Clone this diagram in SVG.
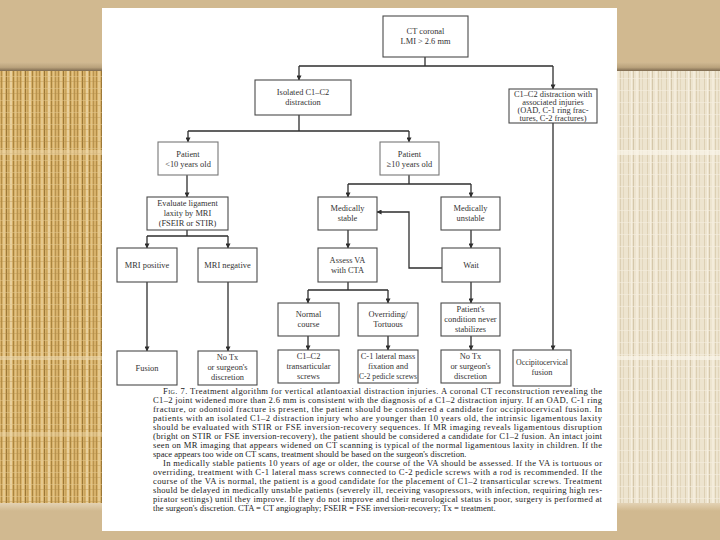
<svg xmlns="http://www.w3.org/2000/svg" width="720" height="540" viewBox="0 0 720 540">
<defs>
<style>
.box{fill:#ffffff;stroke:#4a4a4a;stroke-width:1.1}
.bt{font-family:"Liberation Serif","Times New Roman",serif;font-size:8.4px;fill:#333333;text-anchor:middle}
.cap{font-family:"Liberation Serif","Times New Roman",serif;font-size:8.6px;fill:#222222}
.ln{fill:none;stroke:#2e2e2e;stroke-width:1.3}
</style>
<marker id="ah" viewBox="0 0 6 6" refX="5.5" refY="3" markerWidth="5" markerHeight="5" orient="auto" markerUnits="userSpaceOnUse">
<path d="M0,0 L6,3 L0,6 Z" fill="#2e2e2e"/>
</marker>
<pattern id="gold" width="19" height="12" patternUnits="userSpaceOnUse">
<rect width="19" height="12" fill="#d7b16a"/>
<rect x="1" width="1" height="12" fill="#b48d47"/>
<rect x="3" width="2" height="12" fill="#e6c98e"/>
<rect x="6" width="1" height="12" fill="#9c7837"/>
<rect x="8" width="1" height="12" fill="#c9a45c"/>
<rect x="10" width="2" height="12" fill="#e9d09d"/>
<rect x="13" width="1" height="12" fill="#a9843f"/>
<rect x="15" width="1" height="12" fill="#e1c283"/>
<rect x="17" width="1" height="12" fill="#b8934f"/>
<rect y="4" width="19" height="1" fill="#e3c78e" opacity="0.5"/>
<rect y="9" width="19" height="1" fill="#b08b48" opacity="0.35"/>
</pattern>
<pattern id="pale" width="19" height="12" patternUnits="userSpaceOnUse">
<rect width="19" height="12" fill="#ede4cf"/>
<rect x="1" width="1" height="12" fill="#ddd0b4"/>
<rect x="4" width="1" height="12" fill="#f6efe0"/>
<rect x="6" width="1" height="12" fill="#d5c7aa"/>
<rect x="9" width="2" height="12" fill="#f4ecdb"/>
<rect x="12" width="1" height="12" fill="#dccfb3"/>
<rect x="15" width="1" height="12" fill="#e2d6bc"/>
<rect y="6" width="19" height="1" fill="#f5eedf" opacity="0.6"/>
</pattern>
<linearGradient id="topsh" x1="0" y1="0" x2="0" y2="1">
<stop offset="0" stop-color="#d2bb93"/>
<stop offset="0.6" stop-color="#b9a27c"/>
<stop offset="1" stop-color="#7d6a4f"/>
</linearGradient>
<linearGradient id="botsh" x1="0" y1="0" x2="0" y2="1">
<stop offset="0" stop-color="#e3d2b4"/>
<stop offset="1" stop-color="#d1b98f"/>
</linearGradient>
</defs>

<g id="background">
<rect x="0" y="0" width="720" height="540" fill="#d1b990"/>
<rect x="0" y="70" width="102" height="433" fill="url(#gold)"/>
<rect x="617" y="70" width="103" height="433" fill="url(#pale)"/>
<rect x="0" y="150" width="102" height="5" fill="#ecd6a6" opacity="0.55"/>
<rect x="0" y="356" width="102" height="4" fill="#efdcb4" opacity="0.6"/>
<rect x="0" y="432" width="102" height="4" fill="#ecd6a6" opacity="0.5"/>
<rect x="617" y="150" width="103" height="5" fill="#faf5ea" opacity="0.7"/>
<rect x="617" y="356" width="103" height="4" fill="#faf5ea" opacity="0.7"/>
<rect x="0" y="62" width="720" height="9" fill="url(#topsh)"/>
<rect x="0" y="503" width="720" height="8" fill="url(#botsh)"/>
<rect x="102" y="8" width="515" height="523" fill="#ffffff"/>
</g>

<g id="connectors">
<path class="ln" d="M425,57 V66 M299,66 H553"/>
<path class="ln" d="M299,66 V80" marker-end="url(#ah)"/>
<path class="ln" d="M553,66 V89" marker-end="url(#ah)"/>
<path class="ln" d="M299,115 V131 M188,131 H409"/>
<path class="ln" d="M188,131 V142" marker-end="url(#ah)"/>
<path class="ln" d="M409,131 V142" marker-end="url(#ah)"/>
<path class="ln" d="M187,175 V197" marker-end="url(#ah)"/>
<path class="ln" d="M187,230 V236 M147,236 H228"/>
<path class="ln" d="M147,236 V248" marker-end="url(#ah)"/>
<path class="ln" d="M228,236 V248" marker-end="url(#ah)"/>
<path class="ln" d="M409,175 V184 M348,184 H471"/>
<path class="ln" d="M348,184 V197" marker-end="url(#ah)"/>
<path class="ln" d="M471,184 V197" marker-end="url(#ah)"/>
<path class="ln" d="M348,230 V248" marker-end="url(#ah)"/>
<path class="ln" d="M471,230 V248" marker-end="url(#ah)"/>
<path class="ln" d="M442,268 H409 V212 H377" marker-end="url(#ah)"/>
<path class="ln" d="M348,282 V290 M308,290 H388"/>
<path class="ln" d="M308,290 V303" marker-end="url(#ah)"/>
<path class="ln" d="M388,290 V303" marker-end="url(#ah)"/>
<path class="ln" d="M471,282 V303" marker-end="url(#ah)"/>
<path class="ln" d="M308,336 V350" marker-end="url(#ah)"/>
<path class="ln" d="M388,336 V350" marker-end="url(#ah)"/>
<path class="ln" d="M471,336 V350" marker-end="url(#ah)"/>
<path class="ln" d="M147,282 V351" marker-end="url(#ah)"/>
<path class="ln" d="M228,282 V351" marker-end="url(#ah)"/>
<path class="ln" d="M553,123 V350" marker-end="url(#ah)"/>
</g>

<g id="n-ct"><rect class="box" x="383" y="16" width="85" height="41"/>
<text class="bt" x="425.5" y="34">CT coronal</text><text class="bt" x="425.5" y="44">LMI &gt; 2.6 mm</text></g>

<g id="n-isolated"><rect class="box" x="255" y="80" width="96" height="35"/>
<text class="bt" x="303" y="95">Isolated C1–C2</text><text class="bt" x="303" y="105">distraction</text></g>

<g id="n-assoc"><rect class="box" x="509" y="89" width="88" height="34"/>
<text class="bt" x="553" y="97">C1–C2 distraction with</text>
<text class="bt" x="553" y="105">associated injuries</text>
<text class="bt" x="553" y="113">(OAD, C-1 ring frac-</text>
<text class="bt" x="553" y="121">tures, C-2 fractures)</text></g>

<g id="n-lt10"><rect class="box" x="158" y="142" width="60" height="33" style="stroke:#777"/>
<text class="bt" x="188" y="157">Patient</text><text class="bt" x="188" y="167">&lt;10 years old</text></g>

<g id="n-ge10"><rect class="box" x="380" y="142" width="59" height="33" style="stroke:#777"/>
<text class="bt" x="409.5" y="157">Patient</text><text class="bt" x="409.5" y="167">≥10 years old</text></g>

<g id="n-eval"><rect class="box" x="147" y="197" width="81" height="33"/>
<text class="bt" x="187.5" y="206">Evaluate ligament</text>
<text class="bt" x="187.5" y="216">laxity by MRI</text>
<text class="bt" x="187.5" y="226">(FSEIR or STIR)</text></g>

<g id="n-mripos"><rect class="box" x="117" y="248" width="60" height="34"/>
<text class="bt" x="147" y="268">MRI positive</text></g>

<g id="n-mrineg"><rect class="box" x="198" y="248" width="59" height="34"/>
<text class="bt" x="227.5" y="268">MRI negative</text></g>

<g id="n-stable"><rect class="box" x="318" y="197" width="59" height="33"/>
<text class="bt" x="347.5" y="211">Medically</text><text class="bt" x="347.5" y="221">stable</text></g>

<g id="n-unstable"><rect class="box" x="441" y="197" width="59" height="33"/>
<text class="bt" x="470.5" y="211">Medically</text><text class="bt" x="470.5" y="221">unstable</text></g>

<g id="n-assess"><rect class="box" x="318" y="248" width="59" height="34"/>
<text class="bt" x="347.5" y="263">Assess VA</text><text class="bt" x="347.5" y="273">with CTA</text></g>

<g id="n-wait"><rect class="box" x="442" y="248" width="58" height="34"/>
<text class="bt" x="471" y="268">Wait</text></g>

<g id="n-normal"><rect class="box" x="278" y="303" width="61" height="33"/>
<text class="bt" x="308.5" y="317">Normal</text><text class="bt" x="308.5" y="327">course</text></g>

<g id="n-overriding"><rect class="box" x="358" y="303" width="60" height="33"/>
<text class="bt" x="388" y="317">Overriding/</text><text class="bt" x="388" y="327">Tortuous</text></g>

<g id="n-condition"><rect class="box" x="441" y="303" width="59" height="33"/>
<text class="bt" x="470.5" y="312">Patient's</text>
<text class="bt" x="470.5" y="322">condition never</text>
<text class="bt" x="470.5" y="332">stabilizes</text></g>

<g id="n-fusion"><rect class="box" x="117" y="351" width="60" height="34"/>
<text class="bt" x="147" y="371">Fusion</text></g>

<g id="n-notx1"><rect class="box" x="198" y="351" width="59" height="34"/>
<text class="bt" x="227.5" y="360">No Tx</text>
<text class="bt" x="227.5" y="370">or surgeon's</text>
<text class="bt" x="227.5" y="380">discretion</text></g>

<g id="n-transartic"><rect class="box" x="278" y="350" width="61" height="33"/>
<text class="bt" x="308.5" y="359">C1–C2</text>
<text class="bt" x="308.5" y="369">transarticular</text>
<text class="bt" x="308.5" y="379">screws</text></g>

<g id="n-lateral"><rect class="box" x="358" y="350" width="60" height="33"/>
<text class="bt" x="388" y="359">C-1 lateral mass</text>
<text class="bt" x="388" y="369">fixation and</text>
<text class="bt" x="388" y="379" textLength="58" lengthAdjust="spacingAndGlyphs">C-2 pedicle screws</text></g>

<g id="n-notx2"><rect class="box" x="441" y="350" width="59" height="33"/>
<text class="bt" x="470.5" y="359">No Tx</text>
<text class="bt" x="470.5" y="369">or surgeon's</text>
<text class="bt" x="470.5" y="379">discretion</text></g>

<g id="n-occ"><rect class="box" x="513" y="350" width="58" height="36"/>
<text class="bt" x="542" y="365" textLength="52" lengthAdjust="spacingAndGlyphs">Occipitocervical</text>
<text class="bt" x="542" y="375">fusion</text></g>

<g id="caption" class="cap">
<text x="163" y="394" textLength="439" lengthAdjust="spacing"><tspan font-variant="small-caps">Fig.</tspan> 7. Treatment algorithm for vertical atlantoaxial distraction injuries. A coronal CT reconstruction revealing the</text>
<text x="153" y="403" textLength="449" lengthAdjust="spacing">C1–2 joint widened more than 2.6 mm is consistent with the diagnosis of a C1–2 distraction injury. If an OAD, C-1 ring</text>
<text x="153" y="412" textLength="449" lengthAdjust="spacing">fracture, or odontoid fracture is present, the patient should be considered a candidate for occipitocervical fusion. In</text>
<text x="153" y="421" textLength="449" lengthAdjust="spacing">patients with an isolated C1–2 distraction injury who are younger than 10 years old, the intrinsic ligamentous laxity</text>
<text x="153" y="430" textLength="449" lengthAdjust="spacing">should be evaluated with STIR or FSE inversion-recovery sequences. If MR imaging reveals ligamentous disruption</text>
<text x="153" y="439" textLength="449" lengthAdjust="spacing">(bright on STIR or FSE inversion-recovery), the patient should be considered a candidate for C1–2 fusion. An intact joint</text>
<text x="153" y="448" textLength="449" lengthAdjust="spacing">seen on MR imaging that appears widened on CT scanning is typical of the normal ligamentous laxity in children. If the</text>
<text x="153" y="457">space appears too wide on CT scans, treatment should be based on the surgeon's discretion.</text>
<text x="163" y="466" textLength="439" lengthAdjust="spacing">In medically stable patients 10 years of age or older, the course of the VA should be assessed. If the VA is tortuous or</text>
<text x="153" y="475" textLength="449" lengthAdjust="spacing">overriding, treatment with C-1 lateral mass screws connected to C-2 pedicle screws with a rod is recommended. If the</text>
<text x="153" y="484" textLength="449" lengthAdjust="spacing">course of the VA is normal, the patient is a good candidate for the placement of C1–2 transarticular screws. Treatment</text>
<text x="153" y="493" textLength="449" lengthAdjust="spacing">should be delayed in medically unstable patients (severely ill, receiving vasopressors, with infection, requiring high res-</text>
<text x="153" y="502" textLength="449" lengthAdjust="spacing">pirator settings) until they improve. If they do not improve and their neurological status is poor, surgery is performed at</text>
<text x="153" y="511">the surgeon's discretion. CTA = CT angiography; FSEIR = FSE inversion-recovery; Tx = treatment.</text>
</g>
</svg>
